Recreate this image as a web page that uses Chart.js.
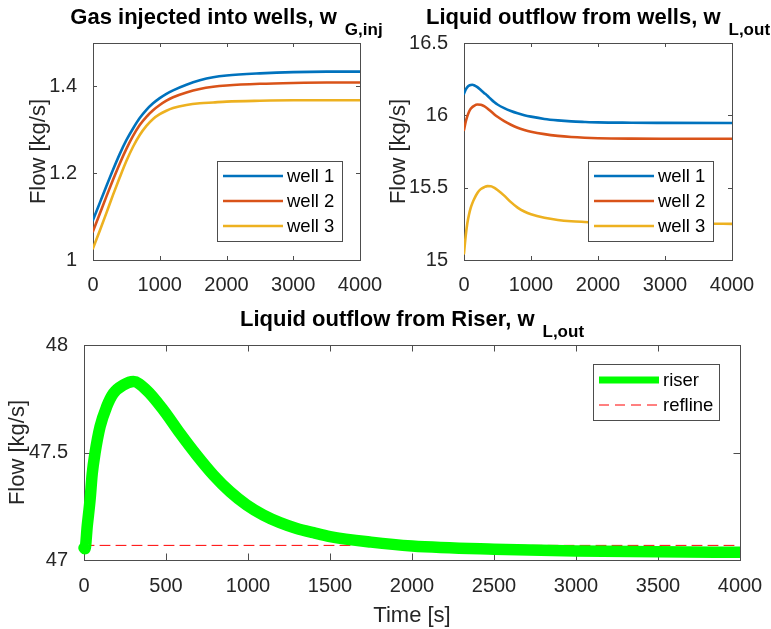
<!DOCTYPE html>
<html>
<head>
<meta charset="utf-8">
<script src="https://cdn.jsdelivr.net/npm/chart.js@4.4.0/dist/chart.umd.min.js"></script>
<style>
  body { margin: 0; background: #fff; }
  #wrap { position: relative; width: 771px; height: 629px; background: #fff; }
  #wrap canvas { position: absolute; left: 0; top: 0; }
</style>
</head>
<body>
<div id="wrap">
  <canvas id="gasChart" width="771" height="629"></canvas>
  <canvas id="wellChart" width="771" height="629"></canvas>
  <canvas id="riserChart" width="771" height="629"></canvas>
</div>
<script>
// --- data ---
const gasTime  = [0, 100, 200, 300, 400, 500, 600, 700, 800, 900, 1000, 1100, 1200, 1400, 1600, 1800, 2000, 2500, 3000, 3500, 4000];
const gasWell1 = [1.092, 1.131, 1.170, 1.208, 1.244, 1.276, 1.303, 1.327, 1.346, 1.361, 1.373, 1.383, 1.391, 1.404, 1.414, 1.421, 1.425, 1.430, 1.433, 1.434, 1.434];
const gasWell2 = [1.066, 1.106, 1.146, 1.185, 1.222, 1.256, 1.286, 1.311, 1.330, 1.345, 1.357, 1.367, 1.375, 1.386, 1.394, 1.399, 1.402, 1.406, 1.408, 1.409, 1.409];
const gasWell3 = [1.027, 1.067, 1.108, 1.150, 1.190, 1.228, 1.261, 1.288, 1.309, 1.325, 1.336, 1.344, 1.350, 1.357, 1.361, 1.363, 1.365, 1.367, 1.368, 1.368, 1.368];

const liqTime  = [0, 25, 50, 75, 100, 125, 150, 200, 250, 300, 350, 400, 450, 500, 600, 700, 800, 900, 1000, 1200, 1400, 1600, 1800, 2000, 2500, 3000, 4000];
const liqWell1 = [16.150, 16.177, 16.195, 16.205, 16.210, 16.211, 16.208, 16.195, 16.175, 16.155, 16.135, 16.113, 16.092, 16.075, 16.050, 16.030, 16.014, 16.001, 15.991, 15.975, 15.965, 15.958, 15.954, 15.951, 15.949, 15.948, 15.947];
const liqWell2 = [15.899, 15.955, 15.995, 16.025, 16.045, 16.057, 16.066, 16.075, 16.073, 16.063, 16.047, 16.028, 16.008, 15.990, 15.960, 15.935, 15.914, 15.899, 15.887, 15.870, 15.858, 15.850, 15.845, 15.842, 15.839, 15.838, 15.838];
const liqWell3 = [15.046, 15.165, 15.255, 15.315, 15.360, 15.393, 15.420, 15.463, 15.490, 15.503, 15.511, 15.510, 15.500, 15.484, 15.445, 15.400, 15.362, 15.335, 15.316, 15.292, 15.277, 15.268, 15.263, 15.259, 15.254, 15.251, 15.250];

const riserTime = [0, 6, 20, 37, 50, 67, 98, 138, 179, 240, 301, 382, 484, 586, 687, 789, 890, 992, 1094, 1195, 1297, 1399, 1500, 1750, 2000, 2500, 3000, 3500, 4000];
const riserFlow = [47.056, 47.052, 47.16, 47.28, 47.40, 47.496, 47.62, 47.713, 47.775, 47.814, 47.83, 47.79, 47.698, 47.589, 47.488, 47.395, 47.318, 47.256, 47.209, 47.174, 47.147, 47.127, 47.109, 47.083, 47.065, 47.05, 47.042, 47.038, 47.036];
const refLevel = 47.068;

const wellLabels = ['well 1', 'well 2', 'well 3'];
const xTicksTop = [0, 1000, 2000, 3000, 4000];
const xTicksRiser = [0, 500, 1000, 1500, 2000, 2500, 3000, 3500, 4000];
const yTicksGas = [1, 1.2, 1.4];
const yTicksLiq = [15, 15.5, 16, 16.5];
const yTicksRiser = [47, 47.5, 48];

const FONT = "'Liberation Sans', Arial, Helvetica, sans-serif";
const TEXT_COLOR = '#262626';
const BOX_COLOR = '#4d4d4d';
const wellColors = ['#0072BD', '#D95319', '#EDB120'];

Chart.defaults.font.family = FONT;

const pts = (xs, ys) => xs.map((x, i) => ({ x: x, y: ys[i] }));

// box + inward tick marks, matlab style
const axesBox = {
  id: 'axesBox',
  beforeDatasetsDraw(chart, args, opts) {
    const { ctx, chartArea: a, scales } = chart;
    const L = opts.tickLen || 4;
    ctx.save();
    ctx.strokeStyle = BOX_COLOR;
    ctx.lineWidth = 1;
    ctx.beginPath();
    scales.x.ticks.forEach(t => {
      const px = Math.round(scales.x.getPixelForValue(t.value)) + 0.5;
      ctx.moveTo(px, a.bottom); ctx.lineTo(px, a.bottom - L);
      ctx.moveTo(px, a.top); ctx.lineTo(px, a.top + L);
    });
    scales.y.ticks.forEach(t => {
      const py = Math.round(scales.y.getPixelForValue(t.value)) + 0.5;
      ctx.moveTo(a.left, py); ctx.lineTo(a.left + L, py);
      ctx.moveTo(a.right, py); ctx.lineTo(a.right - L, py);
    });
    ctx.stroke();
    ctx.strokeRect(Math.round(a.left) + 0.5, Math.round(a.top) + 0.5,
                   Math.round(a.right - a.left), Math.round(a.bottom - a.top));
    ctx.restore();
  }
};

// bold title with a subscript part
const subTitle = {
  id: 'subTitle',
  afterDraw(chart, args, opts) {
    const { ctx, chartArea: a } = chart;
    ctx.save();
    ctx.fillStyle = '#000';
    ctx.textBaseline = 'alphabetic';
    ctx.font = 'bold 22px ' + FONT;
    const mw = ctx.measureText(opts.main).width;
    ctx.font = 'bold 17px ' + FONT;
    const sw = ctx.measureText(opts.sub).width;
    const gap = 8;
    let x = (a.left + a.right) / 2 - (mw + gap + sw) / 2;
    const base = a.top - 19.5;
    ctx.font = 'bold 22px ' + FONT;
    ctx.fillText(opts.main, x, base);
    ctx.font = 'bold 17px ' + FONT;
    ctx.fillText(opts.sub, x + mw + gap, base + 11);
    ctx.restore();
  }
};

// legend box inside the axes
const boxLegend = {
  id: 'boxLegend',
  afterDraw(chart, args, opts) {
    const { ctx, chartArea: a } = chart;
    const w = opts.width, h = opts.height;
    const left = a.right - opts.right - w;
    const top = opts.top != null ? a.top + opts.top : a.bottom - opts.bottom - h;
    const sets = chart.data.datasets;
    ctx.save();
    ctx.fillStyle = '#fff';
    ctx.fillRect(left, top, w, h);
    ctx.strokeStyle = BOX_COLOR;
    ctx.lineWidth = 1;
    ctx.strokeRect(Math.round(left) + 0.5, Math.round(top) + 0.5, w, h);
    const y0 = top + (h - (sets.length - 1) * 25) / 2;
    sets.forEach((ds, i) => {
      const y = Math.round(y0 + i * 25);
      ctx.strokeStyle = ds.borderColor;
      ctx.lineWidth = ds.legendLine || ds.borderWidth;
      ctx.setLineDash(ds.borderDash || []);
      ctx.beginPath();
      ctx.moveTo(left + 6, y);
      ctx.lineTo(left + 66, y);
      ctx.stroke();
      ctx.setLineDash([]);
      ctx.fillStyle = '#000';
      ctx.font = '18.5px ' + FONT;
      ctx.textBaseline = 'middle';
      ctx.fillText(ds.label, left + 70, y + 1);
    });
    ctx.restore();
  }
};

function makeChart(id, cfg) {
  const tickFont = { size: 20, family: FONT };
  return new Chart(document.getElementById(id), {
    type: 'line',
    data: { datasets: cfg.datasets },
    plugins: [axesBox, subTitle, boxLegend],
    options: {
      responsive: false,
      animation: false,
      events: [],
      layout: { padding: cfg.padding },
      elements: { point: { radius: 0 }, line: { cubicInterpolationMode: 'monotone', borderCapStyle: 'round', borderJoinStyle: 'round' } },
      plugins: {
        legend: { display: false },
        tooltip: { enabled: false },
        axesBox: { tickLen: cfg.tickLen },
        subTitle: cfg.title,
        boxLegend: cfg.legend
      },
      scales: {
        x: {
          type: 'linear', min: 0, max: 4000,
          afterBuildTicks: s => { s.ticks = cfg.xTicks.map(v => ({ value: v })); },
          afterFit: s => { s.height = cfg.xHeight; s.paddingLeft = 0; s.paddingRight = 0; },
          grid: { display: false },
          border: { display: false },
          ticks: { autoSkip: false, maxRotation: 0, padding: cfg.xPad, color: TEXT_COLOR, font: tickFont, callback: v => String(v) },
          title: cfg.xTitle ? { display: true, text: cfg.xTitle, color: TEXT_COLOR, font: { size: 22 }, padding: { top: 0, bottom: 0 } } : { display: false }
        },
        y: {
          type: 'linear', min: cfg.yMin, max: cfg.yMax,
          afterBuildTicks: s => { s.ticks = cfg.yTicks.map(v => ({ value: v })); },
          afterFit: s => { s.width = cfg.yWidth; s.paddingTop = 0; s.paddingBottom = 0; },
          grid: { display: false },
          border: { display: false },
          ticks: { padding: 8, color: TEXT_COLOR, font: tickFont, callback: v => String(v) },
          title: { display: true, text: 'Flow [kg/s]', color: TEXT_COLOR, font: { size: 22 }, padding: { top: cfg.yTitlePad, bottom: 0 } }
        }
      }
    }
  });
}

const wellSets = (t, series) => series.map((s, i) => ({
  label: wellLabels[i], data: pts(t, s), borderColor: wellColors[i], borderWidth: 2.6
}));

makeChart('gasChart', {
  datasets: wellSets(gasTime, [gasWell1, gasWell2, gasWell3]),
  padding: { left: 0, top: 43, right: 411, bottom: 329 },
  xHeight: 40, yWidth: 93, xPad: 5, yTitlePad: 26, tickLen: 4,
  xTicks: xTicksTop, yTicks: yTicksGas, yMin: 1, yMax: 1.5,
  title: { main: 'Gas injected into wells, w', sub: 'G,inj' },
  legend: { right: 18, bottom: 19, width: 125, height: 80 }
});

makeChart('wellChart', {
  datasets: wellSets(liqTime, [liqWell1, liqWell2, liqWell3]),
  padding: { left: 385, top: 43, right: 39, bottom: 329 },
  xHeight: 40, yWidth: 79, xPad: 5, yTitlePad: 1, tickLen: 4,
  xTicks: xTicksTop, yTicks: yTicksLiq, yMin: 15, yMax: 16.5,
  title: { main: 'Liquid outflow from wells, w', sub: 'L,out' },
  legend: { right: 19, bottom: 19, width: 125, height: 80 }
});

makeChart('riserChart', {
  datasets: [
    { label: 'riser', data: pts(riserTime, riserFlow), borderColor: '#00FF00', borderWidth: 11.5, legendLine: 7,
      clip: { left: 8, top: 0, right: 0, bottom: 8 } },
    { label: 'refline', data: pts([0, 4000], [refLevel, refLevel]), borderColor: '#FF0000', borderWidth: 1,
      borderDash: [10, 6], cubicInterpolationMode: 'default', tension: 0 }
  ],
  padding: { left: 0, top: 345, right: 31, bottom: 0 },
  xHeight: 69, yWidth: 84, xPad: 6, yTitlePad: 5, tickLen: 6.5,
  xTicks: xTicksRiser, yTicks: yTicksRiser, yMin: 47, yMax: 48,
  xTitle: 'Time [s]',
  title: { main: 'Liquid outflow from Riser, w', sub: 'L,out' },
  legend: { right: 21, top: 19, width: 126, height: 56 }
});
</script>
</body>
</html>
